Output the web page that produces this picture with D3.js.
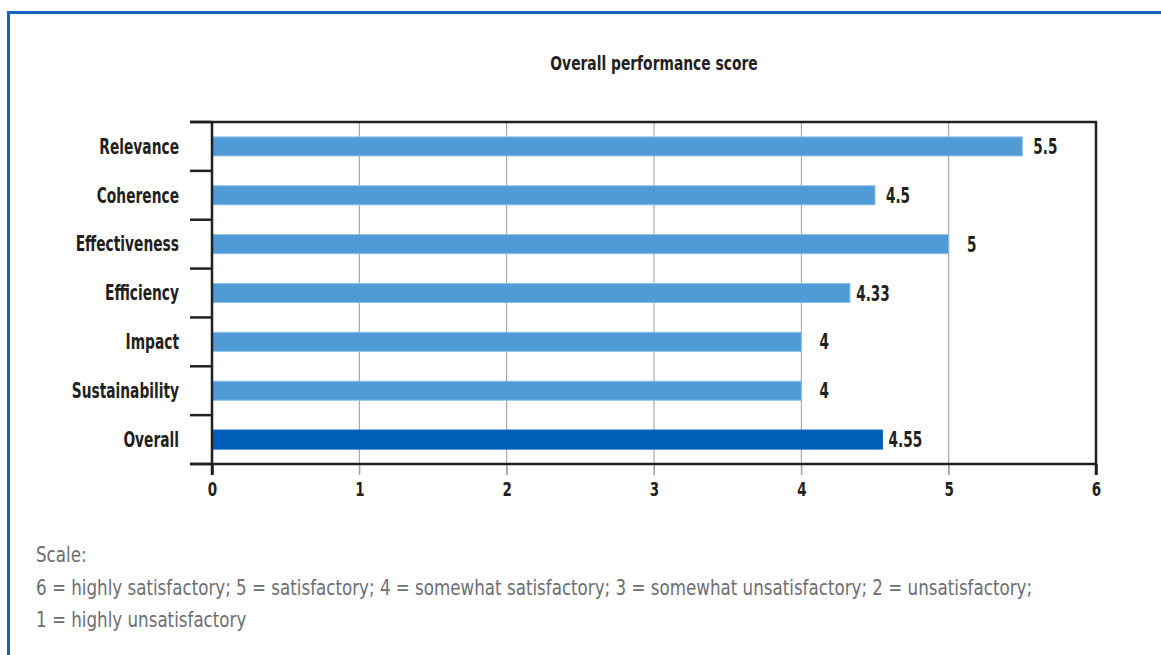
<!DOCTYPE html>
<html>
<head>
<meta charset="utf-8">
<script src="https://cdn.jsdelivr.net/npm/d3@7"></script>
<style>
  html, body { margin: 0; padding: 0; background: #fff; }
  svg { display: block; }
</style>
</head>
<body>
<svg id="chart" width="1161" height="655"></svg>
<script>
const categories = ["Relevance", "Coherence", "Effectiveness", "Efficiency", "Impact", "Sustainability", "Overall"];
const scores = [5.5, 4.5, 5, 4.33, 4, 4, 4.55];
const scoreLabels = ["5.5", "4.5", "5", "4.33", "4", "4", "4.55"];
const xTicks = [0, 1, 2, 3, 4, 5, 6];
const title = "Overall performance score";
const noteLines = [
  "Scale:",
  "6 = highly satisfactory; 5 = satisfactory; 4 = somewhat satisfactory; 3 = somewhat unsatisfactory; 2 = unsatisfactory;",
  "1 = highly unsatisfactory"
];

(function () {
const svg = d3.select("#chart");
const font = '"DejaVu Sans Condensed", "Liberation Sans Narrow", "Arial Narrow", sans-serif';
const ink = "#231f20";

function label(parent, x, y, txt, opts) {
  const g = parent.append("g").attr("transform", `translate(${x},${y}) scale(${opts.sx},1)`);
  return g.append("text")
    .attr("text-anchor", opts.anchor || "start")
    .attr("dy", opts.dy || 0)
    .style("font-family", font)
    .style("font-weight", opts.weight || "bold")
    .style("font-size", opts.size + "px")
    .attr("fill", opts.fill || ink)
    .text(txt);
}

// frame border (top + left)
svg.append("line").attr("x1", 8).attr("x2", 1161).attr("y1", 12.5).attr("y2", 12.5)
  .attr("stroke", "#1565c0").attr("stroke-width", 3);
svg.append("line").attr("x1", 8.5).attr("x2", 8.5).attr("y1", 11).attr("y2", 655)
  .attr("stroke", "#1565c0").attr("stroke-width", 3);

const pL = 212, pR = 1096, pT = 122, pB = 464;
const x = d3.scaleLinear().domain([0, 6]).range([pL, pR]);
const y = d3.scaleBand().domain(categories).range([pT, pB]).paddingInner(0.61).paddingOuter(0.305);
const yb = d3.scaleBand().domain(categories).range([pT, pB]);

// title
label(svg, 654, 70, title, { anchor: "middle", size: 20, sx: 0.77 });

// vertical grid lines (extend below axis)
svg.append("g").selectAll("line").data(xTicks.filter(d => d > 0 && d < 6)).join("line")
  .attr("x1", d => x(d)).attr("x2", d => x(d)).attr("y1", pT).attr("y2", pB + 11)
  .attr("stroke", "#9a9a9a").attr("stroke-width", 1);

// bars
svg.append("g").selectAll("rect").data(categories).join("rect")
  .attr("x", x(0)).attr("y", d => y(d))
  .attr("width", (d, i) => x(scores[i]) - x(0)).attr("height", y.bandwidth())
  .attr("fill", d => d === "Overall" ? "#005eb8" : "#509bd5")
  .attr("stroke", d => d === "Overall" ? "#005eb8" : "#8cc0e8").attr("stroke-width", 1);

// value labels
const vg = svg.append("g");
categories.forEach((c, i) => {
  label(vg, x(scores[i]) + 23, y(c) + y.bandwidth() / 2, scoreLabels[i],
        { anchor: "middle", size: 21, sx: 0.72, dy: "0.36em" });
});

// frame lines: top, right
svg.append("line").attr("x1", 190).attr("x2", pR + 1).attr("y1", pT).attr("y2", pT).attr("stroke", ink).attr("stroke-width", 2.5);
svg.append("line").attr("x1", pR).attr("x2", pR).attr("y1", pT).attr("y2", pB + 11).attr("stroke", ink).attr("stroke-width", 2.5);

// x axis
const xAxis = d3.axisBottom(x).tickValues(xTicks).tickSize(11).tickPadding(6).tickFormat(d3.format("d"));
const gx = svg.append("g").attr("transform", `translate(0,${pB})`).call(xAxis);
gx.select(".domain").remove();
gx.selectAll(".tick line").attr("stroke", d => (d === 0 || d === 6) ? ink : "#9a9a9a")
  .attr("stroke-width", d => (d === 0 || d === 6) ? 2.5 : 1);
gx.selectAll(".tick text").style("font-family", font).style("font-weight", "bold")
  .style("font-size", "20px").attr("fill", ink)
  .attr("y", 18).attr("dy", "0.71em")
  .attr("transform", "scale(0.75,1)");
svg.append("line").attr("x1", 190).attr("x2", pR + 1).attr("y1", pB).attr("y2", pB).attr("stroke", ink).attr("stroke-width", 2.5);

// y axis line
svg.append("line").attr("x1", pL).attr("x2", pL).attr("y1", pT).attr("y2", pB + 11).attr("stroke", ink).attr("stroke-width", 2.5);
// y boundary ticks
const bounds = categories.map(d => yb(d)).concat([pB]);
svg.append("g").selectAll("line").data(bounds).join("line")
  .attr("x1", 190).attr("x2", pL).attr("y1", d => d).attr("y2", d => d)
  .attr("stroke", ink).attr("stroke-width", 2.5);

// category labels
const cg = svg.append("g");
categories.forEach(c => {
  label(cg, 179, y(c) + y.bandwidth() / 2, c, { anchor: "end", size: 21, sx: 0.73, dy: "0.35em" });
});

// note
const ng = svg.append("g");
noteLines.forEach((t, i) => {
  label(ng, 36, 562 + i * 32.5, t, { size: 21, sx: 0.885, weight: "normal", fill: "#6d6e71" });
});
})();
</script>
</body>
</html>
